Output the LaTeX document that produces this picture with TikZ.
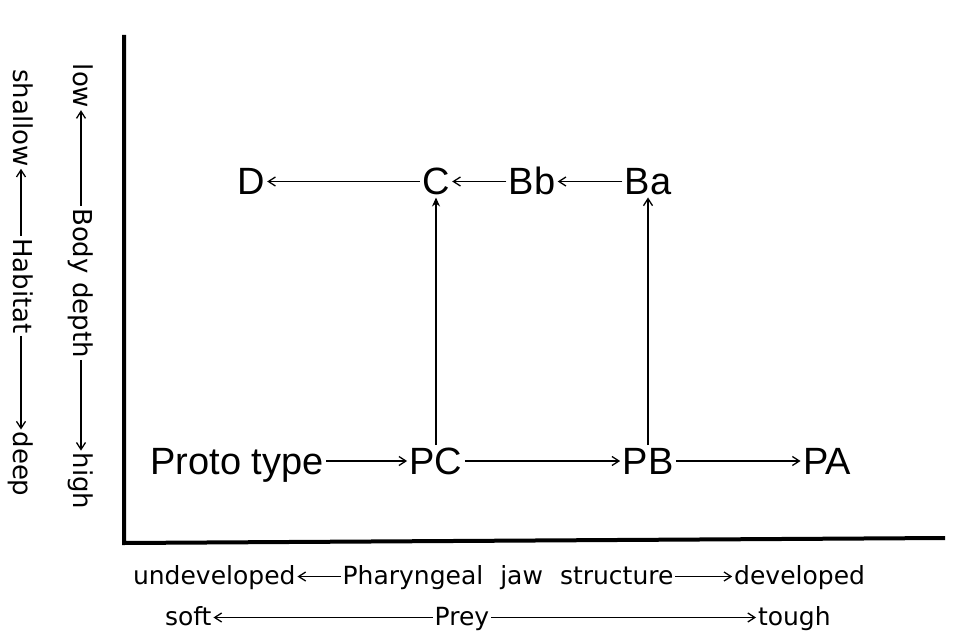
\documentclass[tikz,border=0pt]{standalone}
\usepackage{fontspec}
\setmainfont{Liberation Sans}
\newfontfamily\axfont{DejaVu Sans}
\usetikzlibrary{arrows.meta}
\begin{document}
\begin{tikzpicture}[x=1pt,y=-1pt,
  big/.style={font=\fontsize{38}{40}\selectfont, text height=27pt, text depth=0pt, inner sep=2.5pt, outer sep=0pt},
  ax/.style={font=\axfont\fontsize{25}{28}\selectfont, text height=15pt, text depth=0pt, inner sep=2pt, outer sep=0pt},
  vax/.style={ax, font=\axfont\fontsize{26}{28}\selectfont, rotate=-90},
  arr/.style={line width=1.3pt, -{Straight Barb[length=7pt,width=9pt,line width=1.3pt]}},
  farr/.style={line width=1.3pt, -{Stealth[length=9pt,width=8pt]}},
  axis/.style={line width=4pt, line join=miter}
  ]
\useasboundingbox (0,0) rectangle (963,631);
% axes
\coordinate (atop) at (124,35);
\coordinate (aorig) at (124,543);
\coordinate (aright) at (945,538);
\draw[axis] (atop) -- (aorig) -- (aright);
% top row
\node[big] (D)  at (251,181.5) {D};
\node[big] (C)  at (436,181.5) {C};
\node[big] (Bb) at (532,181.5) {Bb};
\node[big] (Ba) at (648,181.5) {Ba};
% bottom row
\node[big] (Pt) at (237,461) {Proto type};
\node[big] (PC) at (436,461) {PC};
\node[big] (PB) at (648,461) {PB};
\node[big] (PA) at (827,461) {PA};
% arrows
\draw[arr] (C) -- (D);
\draw[arr] (Bb) -- (C);
\draw[arr] (Ba) -- (Bb);
\draw[arr] (Pt) -- (PC);
\draw[arr] (PC) -- (PB);
\draw[arr] (PB) -- (PA);
\draw[farr] (PC) -- (C);
\draw[arr] (PB) -- (Ba);
% horizontal axis labels
\node[ax, anchor=west] (und) at (131,576.5) {undeveloped};
\node[ax] (phar) at (508,576.5) {Pharyngeal\hspace{17pt}jaw\hspace{17pt}structure};
\node[ax, anchor=east] (dev) at (867,576.5) {developed};
\draw[arr] (phar) -- (und);
\draw[arr] (phar) -- (dev);
\node[ax, anchor=west] (soft) at (163,617.5) {soft};
\node[ax] (prey) at (462,617.5) {Prey};
\node[ax, anchor=west] (tough) at (756,617.5) {tough};
\draw[arr] (prey) -- (soft);
\draw[arr] (prey) -- (tough);
% vertical axis labels
\node[vax] (shal) at (21,118) {shallow};
\node[vax] (hab) at (21,286) {Habitat};
\node[vax] (deep) at (21,464) {deep};
\draw[arr] (hab) -- (shal);
\draw[arr] (hab) -- (deep);
\node[vax] (low) at (81,86) {low};
\node[vax] (body) at (81,283) {Body depth};
\node[vax] (high) at (81,481) {high};
\draw[arr] (body) -- (low);
\draw[arr] (body) -- (high);
\end{tikzpicture}
\end{document}
